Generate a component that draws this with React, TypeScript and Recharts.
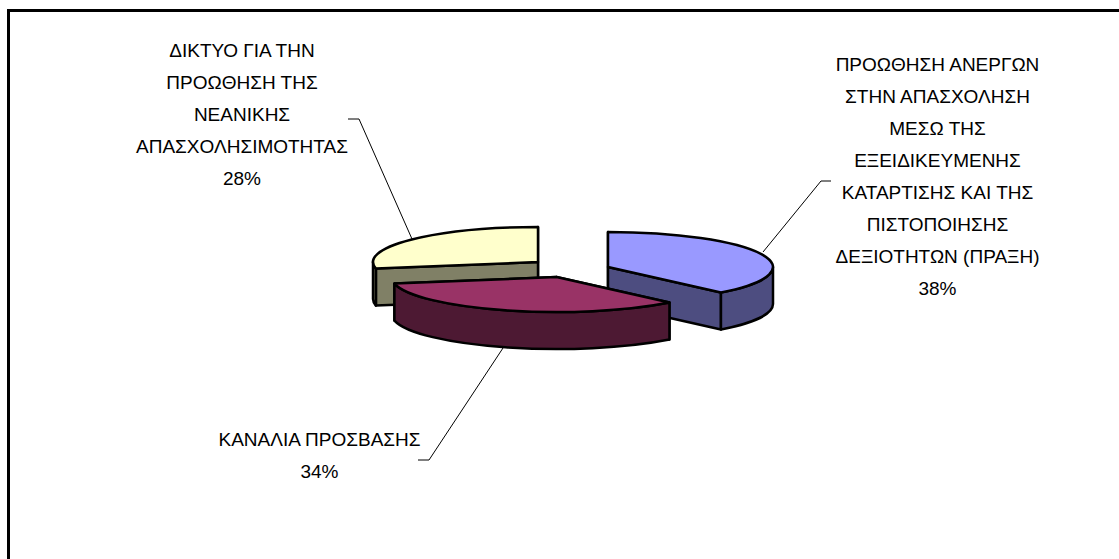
import { PieChart, Pie } from 'recharts';

// drawing order is back to front: yellow, blue, maroon
const categories = ['ΔΙΚΤΥΟ', 'ΠΡΟΩΘΗΣΗ', 'ΚΑΝΑΛΙΑ'];
const values = [28, 38, 34];
const labelLines = [
  ['ΔΙΚΤΥΟ ΓΙΑ ΤΗΝ', 'ΠΡΟΩΘΗΣΗ ΤΗΣ', 'ΝΕΑΝΙΚΗΣ', 'ΑΠΑΣΧΟΛΗΣΙΜΟΤΗΤΑΣ', '28%'],
  [
    'ΠΡΟΩΘΗΣΗ ΑΝΕΡΓΩΝ',
    'ΣΤΗΝ ΑΠΑΣΧΟΛΗΣΗ',
    'ΜΕΣΩ ΤΗΣ',
    'ΕΞΕΙΔΙΚΕΥΜΕΝΗΣ',
    'ΚΑΤΑΡΤΙΣΗΣ ΚΑΙ ΤΗΣ',
    'ΠΙΣΤΟΠΟΙΗΣΗΣ',
    'ΔΕΞΙΟΤΗΤΩΝ (ΠΡΑΞΗ)',
    '38%',
  ],
  ['ΚΑΝΑΛΙΑ ΠΡΟΣΒΑΣΗΣ', '34%'],
];

const topColors = ['#FFFFCC', '#9999FF', '#993366'];
const sideColors = ['#808066', '#4D4D80', '#4D1933'];

// explosion of each slice from the pie centre
const sliceOffsets = [
  { dx: -31.5, dy: -4 },
  { dx: 38.5, dy: 1 },
  { dx: -13, dy: 11 },
];
const labelAnchors = [
  { x: 242, y: 57 },
  { x: 937.5, y: 71 },
  { x: 319.5, y: 446 },
];
const leaderLines = [
  '348,119 359,119 412,239',
  '831,181 821,181 763,252',
  '418,460 429,460 503,348',
];

const WIDTH = 1119;
const HEIGHT = 559;
const SQUASH = 35 / 165;
const DEPTH = 37;
const LINE_HEIGHT = 32;

const rad = (deg: number) => (deg * Math.PI) / 180;

function Slice3D(props: any) {
  const { cx, cy, outerRadius, startAngle, endAngle, index } = props;
  const ox = cx + sliceOffsets[index].dx;
  const oy = cy + sliceOffsets[index].dy;
  const rx = outerRadius;
  const ry = outerRadius * SQUASH;
  const pt = (a: number, drop = 0) =>
    `${(ox + rx * Math.cos(rad(a))).toFixed(2)} ${(oy - ry * Math.sin(rad(a)) + drop).toFixed(2)}`;
  const arc = (to: number, sweep: number, large: number, drop = 0) =>
    `A ${rx} ${ry} 0 ${large} ${sweep} ${pt(to, drop)}`;

  const large = Math.abs(startAngle - endAngle) > 180 ? 1 : 0;
  const top = `M ${ox} ${oy} L ${pt(startAngle)} ${arc(endAngle, 1, large)} Z`;

  // radial walls, the one further back first
  const wall = (a: number) =>
    `M ${ox} ${oy} L ${pt(a)} L ${pt(a, DEPTH)} L ${ox} ${oy + DEPTH} Z`;
  const walls = [startAngle, endAngle].sort((a, b) => Math.sin(rad(b)) - Math.sin(rad(a)));

  // outer rim, only where it faces the viewer
  const rims: string[] = [];
  for (const n of [0, -1, -2]) {
    const hi = Math.min(startAngle, 360 * n);
    const lo = Math.max(endAngle, -180 + 360 * n);
    if (hi > lo) {
      rims.push(`M ${pt(hi)} ${arc(lo, 1, 0)} L ${pt(lo, DEPTH)} ${arc(hi, 0, 0, DEPTH)} Z`);
    }
  }

  const common = { stroke: '#000', strokeWidth: 2.5, strokeLinejoin: 'round' as const };
  return (
    <g>
      {walls.map((a) => (
        <path key={a} d={wall(a)} fill={sideColors[index]} {...common} />
      ))}
      {rims.map((d) => (
        <path key={d} d={d} fill={sideColors[index]} {...common} />
      ))}
      <path d={top} fill={topColors[index]} {...common} />
    </g>
  );
}

function SliceLabel(props: any) {
  const { index } = props;
  const { x, y } = labelAnchors[index];
  return (
    <g>
      <polyline points={leaderLines[index]} fill="none" stroke="#000" strokeWidth={1} />
      <text
        x={x}
        y={y}
        textAnchor="middle"
        fontFamily="'Liberation Sans', Arial, sans-serif"
        fontSize={19}
        fill="#000"
      >
        {labelLines[index].map((line, i) => (
          <tspan key={i} x={x} y={y + i * LINE_HEIGHT}>
            {line}
          </tspan>
        ))}
      </text>
    </g>
  );
}

const data = categories.map((name, i) => ({ name, value: values[i] }));

export default function App() {
  return (
    <div style={{ position: 'absolute', left: 0, top: 0, width: WIDTH, height: HEIGHT, background: '#fff', overflow: 'hidden' }}>
      <div
        style={{
          position: 'absolute',
          left: 7,
          top: 9,
          width: WIDTH,
          height: HEIGHT,
          borderLeft: '3px solid #000',
          borderTop: '3px solid #000',
        }}
      />
      <div style={{ position: 'absolute', left: 0, top: 0 }}>
        <PieChart width={WIDTH} height={HEIGHT} margin={{ top: 0, right: 0, bottom: 0, left: 0 }}>
          <Pie
            data={data}
            dataKey="value"
            nameKey="name"
            cx={569.5}
            cy={266}
            outerRadius={165}
            startAngle={-169.2}
            endAngle={-529.2}
            shape={Slice3D}
            label={SliceLabel}
            labelLine={false}
            isAnimationActive={false}
          />
        </PieChart>
      </div>
    </div>
  );
}
